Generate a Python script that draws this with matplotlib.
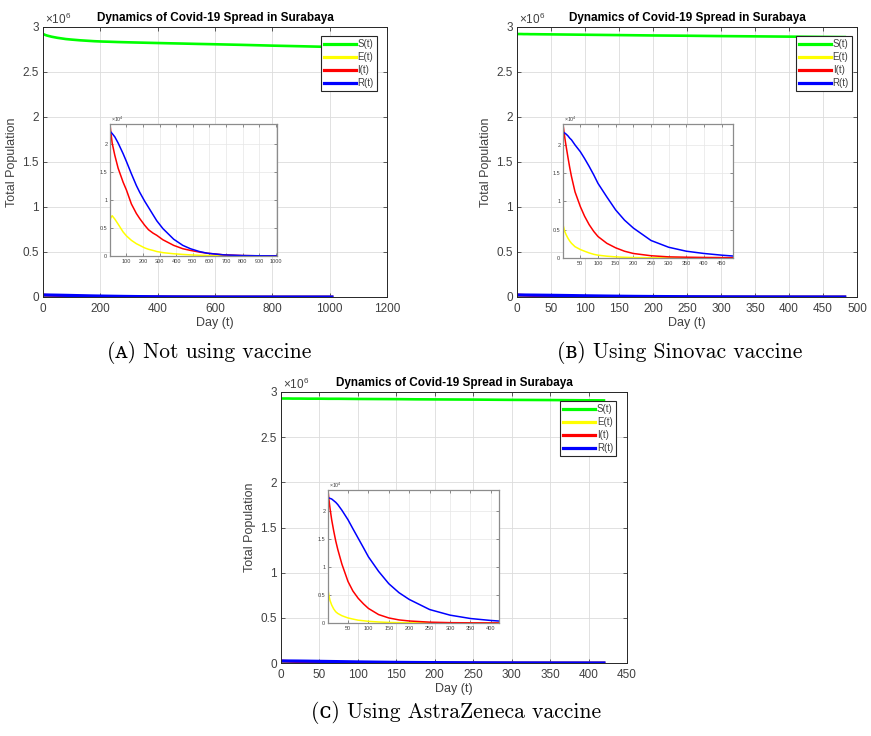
import matplotlib
matplotlib.use('Agg')
import matplotlib.pyplot as plt
from matplotlib.ticker import FuncFormatter

plt.rcParams['font.family'] = 'Liberation Sans'
plt.rcParams['mathtext.fontset'] = 'custom'
plt.rcParams['mathtext.rm'] = 'Liberation Sans'
plt.rcParams['mathtext.it'] = 'Liberation Sans:italic'

# *** Data (S in 1e6, E/I/R in 1e4) *** #
# Panel A - not using vaccine
day_a = [1, 5, 14, 30, 50, 80, 100, 130, 160, 180, 210, 233, 260, 283, 320, 385, 440, 486, 540, 587, 688, 800, 900, 1008]
s_a = [2.922, 2.915, 2.905, 2.892, 2.880, 2.866, 2.860, 2.852, 2.846, 2.842, 2.838, 2.836, 2.833, 2.831, 2.828, 2.823,
       2.819, 2.816, 2.812, 2.809, 2.802, 2.793, 2.786, 2.778]
e_a = [0.63, 0.68, 0.72, 0.66, 0.57, 0.43, 0.36, 0.28, 0.22, 0.19, 0.145, 0.12, 0.10, 0.08, 0.06, 0.04,
       0.028, 0.02, 0.013, 0.009, 0.004, 0.002, 0.001, 0.0005]
i_a = [2.36, 2.24, 2.02, 1.80, 1.57, 1.32, 1.18, 0.93, 0.76, 0.67, 0.55, 0.47, 0.41, 0.37, 0.29, 0.19,
       0.13, 0.10, 0.07, 0.05, 0.02, 0.008, 0.003, 0.001]
r_a = [2.22, 2.22, 2.19, 2.13, 2.02, 1.83, 1.69, 1.47, 1.26, 1.14, 0.98, 0.87, 0.74, 0.63, 0.49, 0.30,
       0.19, 0.13, 0.08, 0.05, 0.02, 0.008, 0.004, 0.002]

# Panel B - Sinovac
day_b = [1, 3, 6, 10, 15, 20, 25, 35, 50, 62, 75, 88, 100, 125, 150, 175, 200, 250, 300, 350, 400, 450, 482]
s_b = [2.922, 2.922, 2.922, 2.921, 2.921, 2.920, 2.920, 2.919, 2.918, 2.917, 2.916, 2.915, 2.914, 2.912,
       2.910, 2.908, 2.906, 2.903, 2.899, 2.896, 2.893, 2.890, 2.888]
e_b = [0.59, 0.54, 0.47, 0.41, 0.35, 0.30, 0.26, 0.20, 0.15, 0.12, 0.09, 0.065, 0.05, 0.032, 0.02, 0.013,
       0.008, 0.004, 0.002, 0.001, 0.0005, 0.0002, 0.0001]
i_b = [2.37, 2.27, 2.13, 1.97, 1.78, 1.60, 1.44, 1.17, 0.91, 0.74, 0.59, 0.47, 0.38, 0.26, 0.18, 0.12,
       0.08, 0.04, 0.02, 0.014, 0.01, 0.007, 0.005]
r_b = [2.22, 2.22, 2.21, 2.19, 2.16, 2.12, 2.09, 2.00, 1.88, 1.76, 1.62, 1.47, 1.32, 1.08, 0.85, 0.67,
       0.53, 0.31, 0.19, 0.12, 0.08, 0.05, 0.035]

# Panel C - AstraZeneca
day_c = [1, 3, 6, 10, 15, 20, 25, 35, 50, 62, 75, 88, 100, 125, 150, 175, 200, 250, 300, 350, 400, 420]
s_c = [2.928, 2.928, 2.928, 2.928, 2.927, 2.927, 2.927, 2.926, 2.926, 2.925, 2.925, 2.924, 2.923, 2.922,
       2.921, 2.919, 2.918, 2.916, 2.913, 2.911, 2.908, 2.907]
e_c = [0.59, 0.50, 0.40, 0.32, 0.25, 0.20, 0.17, 0.13, 0.09, 0.07, 0.05, 0.04, 0.03, 0.018, 0.01, 0.006,
       0.004, 0.002, 0.001, 0.0005, 0.0002, 0.0001]
i_c = [2.37, 2.22, 2.04, 1.84, 1.64, 1.46, 1.31, 1.05, 0.74, 0.57, 0.44, 0.34, 0.26, 0.15, 0.09, 0.055,
       0.036, 0.015, 0.006, 0.003, 0.002, 0.002]
r_c = [2.23, 2.23, 2.22, 2.21, 2.18, 2.15, 2.11, 2.01, 1.84, 1.68, 1.51, 1.34, 1.18, 0.92, 0.70, 0.54,
       0.42, 0.24, 0.14, 0.08, 0.045, 0.035]

labels = ['S(t)', 'E(t)', 'I(t)', 'R(t)']
colours = ['#00ff00', '#ffff00', '#ff0000', '#0000ff']
title = 'Dynamics of Covid-19 Spread in Surabaya'
grey = '#404040'

W, H = 871.0, 736.0
def box(l, t, r, b):
    # pixel box -> figure fraction [left, bottom, width, height]
    return [l / W, 1 - b / H, (r - l) / W, (b - t) / H]

fig = plt.figure(figsize=(8.71, 7.36), dpi=100)

def panel(main_box, inset_box, day, s, e, i, r, xmax, xstep, inset_ticks, leg_x):
    ax = fig.add_axes(box(*main_box))
    ax.plot(day, [v * 1e6 for v in s], color=colours[0], lw=1.9, label=labels[0])
    ax.plot(day, [v * 1e4 for v in e], color=colours[1], lw=1.9, label=labels[1])
    ax.plot(day, [v * 1e4 for v in i], color=colours[2], lw=1.9, label=labels[2])
    ax.plot(day, [v * 1e4 for v in r], color=colours[3], lw=2.3, label=labels[3])
    ax.set_xlim(0, xmax)
    ax.set_ylim(0, 3e6)
    ax.set_xticks(range(0, xmax + 1, xstep))
    ax.set_yticks([0, 0.5e6, 1e6, 1.5e6, 2e6, 2.5e6, 3e6])
    ax.yaxis.set_major_formatter(FuncFormatter(lambda v, p: '%g' % (v / 1e6)))
    ax.text(0.005, 1.0, r'$\times10^{6}$', transform=ax.transAxes, fontsize=8.5,
            color=grey, ha='left', va='bottom')
    ax.grid(True, color='#dcdcdc', lw=0.6)
    ax.tick_params(direction='in', top=True, right=True, labelsize=8.5,
                   colors=grey, length=3, width=0.6, pad=3)
    ax.tick_params(axis='x', pad=4)
    for sp in ax.spines.values():
        sp.set_color('#262626')
        sp.set_linewidth(0.7)
    ax.set_title(title, fontsize=8.5, fontweight='bold', pad=4)
    ax.set_xlabel('Day (t)', fontsize=9, color=grey, labelpad=2)
    ax.set_ylabel('Total Population', fontsize=9, color=grey, labelpad=3)
    leg = ax.legend(loc='upper right', fontsize=7, handlelength=3.3, handletextpad=0.15,
                    labelspacing=0.3, borderpad=0.3, borderaxespad=0, fancybox=False,
                    framealpha=1, bbox_to_anchor=(leg_x, 0.965))
    leg.get_frame().set_edgecolor('#262626')
    leg.get_frame().set_linewidth(0.8)
    for txt in leg.get_texts():
        txt.set_color(grey)
    for ln in leg.get_lines():
        ln.set_linewidth(2.3)

    ins = fig.add_axes(box(*inset_box))
    ins.plot(day, [v * 1e4 for v in e], color=colours[1], lw=1.1)
    ins.plot(day, [v * 1e4 for v in i], color=colours[2], lw=1.1)
    ins.plot(day, [v * 1e4 for v in r], color=colours[3], lw=1.1)
    ins.set_xlim(day[0], day[-1])
    ins.set_ylim(0, max(i) * 1e4)
    ins.set_xticks(inset_ticks)
    ins.set_yticks([0, 0.5e4, 1e4, 1.5e4, 2e4])
    ins.yaxis.set_major_formatter(FuncFormatter(lambda v, p: '%g' % (v / 1e4)))
    ins.text(0.005, 1.0, r'$\times10^{4}$', transform=ins.transAxes, fontsize=3.8,
             color=grey, ha='left', va='bottom')
    ins.grid(True, color='#e6e6e6', lw=0.5)
    ins.tick_params(direction='in', top=True, right=True, labelsize=4,
                    colors=grey, length=2, width=0.4, pad=2)
    for sp in ins.spines.values():
        sp.set_color('#8c8c8c')
        sp.set_linewidth(0.9)
    return ax

panel((43, 27, 387, 297), (110, 124, 277, 256), day_a, s_a, e_a, i_a, r_a,
      1200, 200, list(range(100, 1001, 100)), 0.97)
panel((517, 27, 857, 297), (563, 124, 733, 258), day_b, s_b, e_b, i_b, r_b,
      500, 50, list(range(50, 451, 50)), 0.985)
panel((281, 392, 627, 663), (328, 490, 499, 623), day_c, s_c, e_c, i_c, r_c,
      450, 50, list(range(50, 401, 50)), 0.968)

# Captions (small caps letters)
cap_font = ['cmr10', 'DejaVu Serif']
fig.text(209 / W, 1 - 352 / H, '(ᴀ) Not using vaccine', ha='center', va='center',
         fontsize=15.5, family=cap_font)
fig.text(680 / W, 1 - 352 / H, '(ʙ) Using Sinovac vaccine', ha='center', va='center',
         fontsize=15.5, family=cap_font)
fig.text(456 / W, 1 - 712 / H, '(ᴄ) Using AstraZeneca vaccine', ha='center', va='center',
         fontsize=15.5, family=cap_font)

fig.savefig('out.png', dpi=100)
